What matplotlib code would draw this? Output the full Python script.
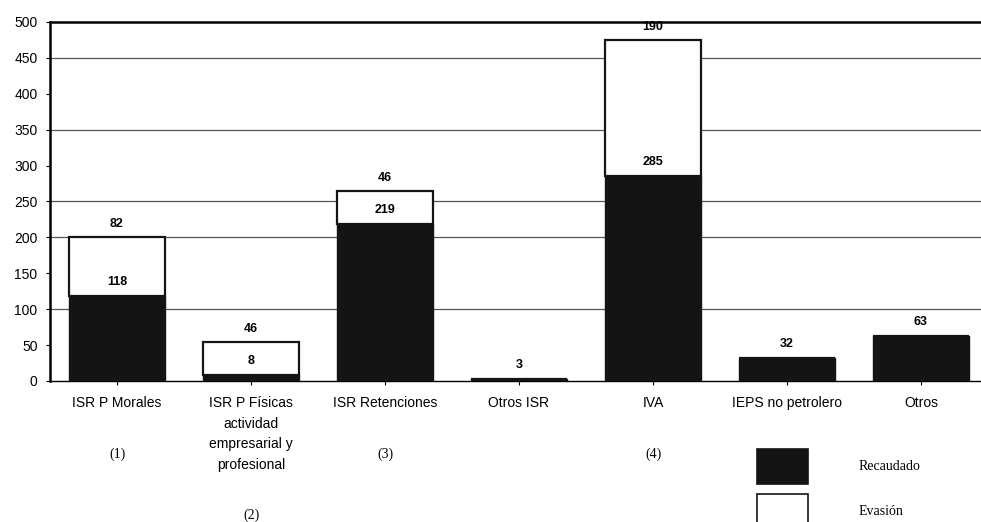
import matplotlib.pyplot as plt
from matplotlib.patches import Patch

# datos (miles de millones)
categorias = ["ISR P Morales", "ISR P Físicas\nactividad\nempresarial y\nprofesional",
              "ISR Retenciones", "Otros ISR", "IVA", "IEPS no petrolero", "Otros"]
notas = ["(1)", "(2)", "(3)", "", "(4)", "", ""]
recaudado = [118, 8, 219, 3, 285, 32, 63]
evasion = [82, 46, 46, 0, 190, 0, 0]

plt.rcParams['font.family'] = ['Liberation Sans', 'DejaVu Sans']

fig = plt.figure(figsize=(9.81, 5.22), dpi=100)
ax = fig.add_axes([50 / 981, 141 / 522, 938 / 981, 359 / 522])

x = list(range(len(categorias)))
ancho = 0.72

# barras apiladas: recaudado abajo (negro), evasión arriba (blanco)
ax.bar(x, recaudado, width=ancho, color='#141414', edgecolor='#141414', linewidth=1, zorder=3)
ax.bar(x, evasion, bottom=recaudado, width=ancho, color='white', edgecolor='#141414',
       linewidth=1.6, zorder=3)

# etiquetas de valores
for i in x:
    r = recaudado[i]
    e = evasion[i]
    ax.annotate(str(r), (i, r), xytext=(0, 8), textcoords='offset pixels',
                ha='center', va='bottom', fontsize=9, fontweight='bold', zorder=4)
    if e > 0:
        ax.annotate(str(e), (i, r + e), xytext=(0, 7), textcoords='offset pixels',
                    ha='center', va='bottom', fontsize=9, fontweight='bold', zorder=4)

# líneas de referencia
for g in [100, 200, 250, 350, 450]:
    ax.axhline(g, color='#555555', linewidth=0.9, zorder=1)

ax.set_xlim(-0.5, 6.5)
ax.set_ylim(0, 500)
ax.set_yticks(range(0, 501, 50))
ax.tick_params(axis='y', labelsize=10, length=3, width=0.8, pad=6)
ax.set_xticks(x)
ax.set_xticklabels(categorias, fontsize=10, linespacing=1.6)
ax.tick_params(axis='x', length=3, width=0.8, pad=8)

ax.spines['left'].set_linewidth(1.8)
ax.spines['top'].set_linewidth(1.8)
ax.spines['bottom'].set_linewidth(1.0)
ax.spines['right'].set_visible(False)

# notas debajo de las categorías
for i, n in enumerate(notas):
    if n == "":
        continue
    yy = -0.373 if n == "(2)" else -0.205
    ax.text(i, yy, n, transform=ax.get_xaxis_transform(), ha='center', va='center',
            fontsize=10, family=['Liberation Serif'])

# leyenda
handles = [Patch(facecolor='#141414', edgecolor='#141414', linewidth=1.2, label='Recaudado'),
           Patch(facecolor='white', edgecolor='#141414', linewidth=1.2, label='Evasión')]
fig.legend(handles=handles, loc='upper left', bbox_to_anchor=(757 / 981, 1 - 449 / 522),
           frameon=False, prop={'family': 'Liberation Serif', 'size': 10},
           handlelength=3.7, handleheight=3.5, handletextpad=3.6, labelspacing=0.7,
           borderpad=0, borderaxespad=0)

fig.savefig('out.png', dpi=100)
